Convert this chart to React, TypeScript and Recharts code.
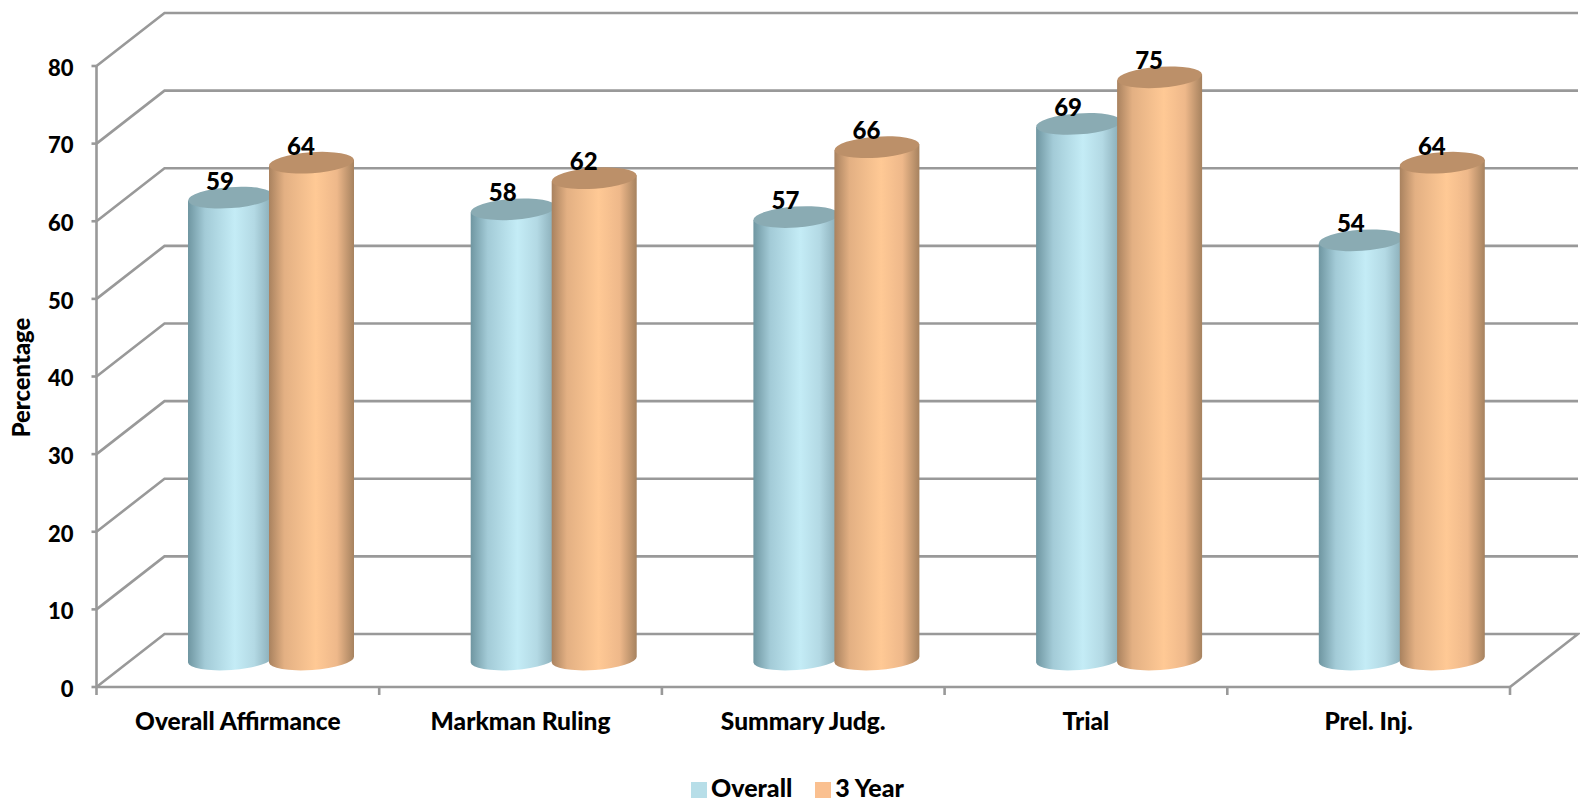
import { BarChart, Bar, XAxis, YAxis, CartesianGrid, Legend, LabelList } from 'recharts';

const categories = ['Overall Affirmance', 'Markman Ruling', 'Summary Judg.', 'Trial', 'Prel. Inj.'];
// first bar stands a little above its printed 59 in the picture
const overall = [59.5, 58, 57, 69, 54];
const overallLabels = [59, 58, 57, 69, 54];
const threeYear = [64, 62, 66, 75, 64];
const threeYearLabels = [64, 62, 66, 75, 64];
const yTicks = [0, 10, 20, 30, 40, 50, 60, 70, 80];

const data = categories.map((name, i) => ({ name, overall: overall[i], threeYear: threeYear[i] }));

const FONT = 'Lato, sans-serif';
const GRID = '#999999';

// 3D look: the plot area is the front plane, walls and bars are pushed back from it
const PLOT_W = 1413.5;
const WALL_DX = 68;
const WALL_DY = -53;
const BAR_DX = 33.5;
const BAR_DY = -27.5;
const RX = 42.5;
const RY = 10.5;
const TILT = 3;

const gridLine = (props: any) => {
  const { x1, x2, y1 } = props;
  const isFloor = y1 > 680;
  const bx1 = x1 + WALL_DX;
  const bx2 = x2 + WALL_DX;
  const by = y1 + WALL_DY;
  const pts = `${x1},${y1} ${bx1},${by} ${bx2},${by}${isFloor ? ` ${x2},${y1}` : ''}`;
  return <polyline key={props.key ?? y1} points={pts} fill="none" stroke={GRID} strokeWidth={2.6} />;
};

const cylinder = (gradient: string, topColor: string) => (props: any) => {
  const { x, y, width, height } = props;
  const cx = x + width / 2 + BAR_DX;
  const top = y + BAR_DY;
  const base = y + height + BAR_DY;
  const l = cx - RX;
  const r = cx + RX;
  const body = `M${l},${top + TILT} L${l},${base + TILT} A${RX},${RY} -4 0 0 ${r},${base - TILT} L${r},${top - TILT} Z`;
  return (
    <g>
      <path d={body} fill={`url(#${gradient})`} />
      <ellipse cx={cx} cy={top} rx={RX} ry={RY} fill={topColor} transform={`rotate(-4 ${cx} ${top})`} />
    </g>
  );
};

const valueLabel = (labels: number[]) => (props: any) => {
  const { x, y, width, index } = props;
  return (
    <text
      x={x + width / 2 + BAR_DX - 10.5}
      y={y + BAR_DY - 8}
      textAnchor="middle"
      fontFamily={FONT}
      fontWeight={900}
      fontSize={24}
      fill="#000"
    >
      {labels[index]}
    </text>
  );
};

const categoryTick = (props: any) => {
  const { x, index, payload } = props;
  const half = PLOT_W / 10;
  const axisY = 687;
  return (
    <g>
      <line x1={x - half} x2={x - half} y1={axisY} y2={axisY + 8} stroke={GRID} strokeWidth={2.6} />
      {index === categories.length - 1 && (
        <line x1={x + half} x2={x + half} y1={axisY} y2={axisY + 8} stroke={GRID} strokeWidth={2.6} />
      )}
      <text x={x} y={axisY + 43} textAnchor="middle" fontFamily={FONT} fontWeight={900} fontSize={24.5} fill="#000">
        {payload.value}
      </text>
    </g>
  );
};

const legendText = (value: string) => (
  <span
    style={{
      color: '#000',
      fontFamily: FONT,
      fontWeight: 900,
      fontSize: 25,
      marginRight: 13,
      position: 'relative',
      top: 3,
    }}
  >
    {value}
  </span>
);

export default function App() {
  return (
    <div style={{ position: 'absolute', left: 0, top: 0, width: 1580, height: 801, background: '#fff' }}>
      <BarChart
        width={1580}
        height={801}
        data={data}
        barSize={81}
        barGap={0}
        margin={{ top: 66, right: 70, bottom: 24, left: 0 }}
      >
        <defs>
          <linearGradient id="blueBody" x1="0" y1="0" x2="1" y2="0">
            <stop offset="0" stopColor="#6f96a1" />
            <stop offset="0.2" stopColor="#a3cbd7" />
            <stop offset="0.55" stopColor="#c4ecf6" />
            <stop offset="0.78" stopColor="#b3d9e4" />
            <stop offset="1" stopColor="#86a9b4" />
          </linearGradient>
          <linearGradient id="orangeBody" x1="0" y1="0" x2="1" y2="0">
            <stop offset="0" stopColor="#a9825f" />
            <stop offset="0.18" stopColor="#e3b083" />
            <stop offset="0.55" stopColor="#ffc995" />
            <stop offset="0.8" stopColor="#eeb88a" />
            <stop offset="1" stopColor="#a6825f" />
          </linearGradient>
        </defs>
        <CartesianGrid vertical={false} horizontal={gridLine} />
        <XAxis
          dataKey="name"
          height={60}
          interval={0}
          tickLine={false}
          axisLine={{ stroke: GRID, strokeWidth: 2.6 }}
          tick={categoryTick}
        />
        <YAxis
          width={96.5}
          domain={[0, 80]}
          ticks={yTicks}
          interval={0}
          tickSize={5}
          tickMargin={18}
          axisLine={{ stroke: GRID, strokeWidth: 2.6 }}
          tickLine={{ stroke: GRID, strokeWidth: 2.6 }}
          tick={{ fontFamily: FONT, fontWeight: 900, fontSize: 22, fill: '#000', dy: 2 }}
          label={{
            value: 'Percentage',
            angle: -90,
            position: 'insideLeft',
            offset: 22,
            dy: 1,
            style: { fontFamily: FONT, fontWeight: 900, fontSize: 23.8, fill: '#000', textAnchor: 'middle' },
          }}
        />
        <Legend
          iconType="square"
          iconSize={16}
          height={30}
          itemSorter={null}
          formatter={legendText}
          wrapperStyle={{ left: 691, top: 769, width: 'auto', whiteSpace: 'nowrap' }}
        />
        <Bar dataKey="overall" name="Overall" fill="#b7dee8" isAnimationActive={false} shape={cylinder('blueBody', '#8aabb3')}>
          <LabelList dataKey="overall" content={valueLabel(overallLabels)} />
        </Bar>
        <Bar dataKey="threeYear" name="3 Year" fill="#fac090" isAnimationActive={false} shape={cylinder('orangeBody', '#bc9069')}>
          <LabelList dataKey="threeYear" content={valueLabel(threeYearLabels)} />
        </Bar>
      </BarChart>
    </div>
  );
}
